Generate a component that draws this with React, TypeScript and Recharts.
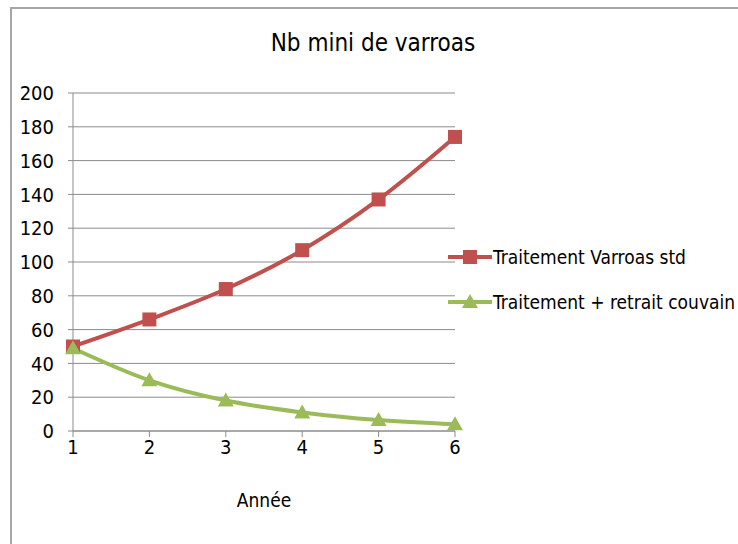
import { LineChart, Line, XAxis, YAxis, CartesianGrid } from 'recharts';

const years = [1, 2, 3, 4, 5, 6];
const standardTreatment = [50, 66, 84, 107, 137, 174];
const broodRemoval = [49, 30, 18, 11, 6.5, 4];
const yTicks = [0, 20, 40, 60, 80, 100, 120, 140, 160, 180, 200];

const RED = '#c0504d';
const GREEN = '#9bbb59';
const FONT = '"DejaVu Sans Condensed", "Liberation Sans Narrow", sans-serif';

const data = years.map((year, i) => ({
  year,
  std: standardTreatment[i],
  couvain: broodRemoval[i],
}));

const series = [
  { key: 'std', name: 'Traitement Varroas std', color: RED, shape: 'square' },
  { key: 'couvain', name: 'Traitement + retrait couvain', color: GREEN, shape: 'triangle' },
];

function SquareDot(props: any) {
  const { cx, cy } = props;
  if (cx == null || cy == null) return null;
  return <rect x={cx - 7} y={cy - 7} width={14} height={14} fill={RED} />;
}

function TriangleDot(props: any) {
  const { cx, cy } = props;
  if (cx == null || cy == null) return null;
  return (
    <polygon
      points={`${cx},${cy - 8} ${cx + 8},${cy + 6} ${cx - 8},${cy + 6}`}
      fill={GREEN}
    />
  );
}

function LegendIcon({ color, shape }: { color: string; shape: string }) {
  return (
    <svg width={44} height={18} style={{ display: 'block' }}>
      <line x1={0} y1={9} x2={44} y2={9} stroke={color} strokeWidth={4} />
      {shape === 'square' ? (
        <rect x={15} y={2} width={14} height={14} fill={color} />
      ) : (
        <polygon points="22,1 30,15 14,15" fill={color} />
      )}
    </svg>
  );
}

export default function App() {
  return (
    <div style={{ position: 'absolute', left: 0, top: 0, width: 738, height: 544, overflow: 'hidden', background: '#fff' }}>
      <div
        style={{
          position: 'absolute',
          left: 10,
          top: 7,
          width: 728,
          height: 537,
          borderTop: '2px solid #a6a6a6',
          borderLeft: '2px solid #a6a6a6',
          boxSizing: 'border-box',
        }}
      />
      <div
        style={{
          position: 'absolute',
          left: 0,
          width: 746,
          top: 29,
          textAlign: 'center',
          fontFamily: FONT,
          fontSize: 24,
          color: '#000',
        }}
      >
        Nb mini de varroas
      </div>
      <div style={{ position: 'absolute', left: 0, top: 0 }}>
        <LineChart
          width={738}
          height={544}
          data={data}
          margin={{ top: 93, right: 283, left: 23, bottom: 83 }}
        >
          <CartesianGrid vertical={false} stroke="#8c8c8c" strokeWidth={1} />
          <XAxis
            dataKey="year"
            height={30}
            stroke="#8c8c8c"
            tickSize={6}
            tickMargin={3}
            tick={{ fill: '#000', fontSize: 20, fontFamily: FONT }}
            label={{ value: 'Année', position: 'bottom', offset: 33, fill: '#000', fontSize: 19, fontFamily: FONT }}
          />
          <YAxis
            width={50}
            domain={[0, 200]}
            ticks={yTicks}
            stroke="#8c8c8c"
            tickSize={5}
            tickMargin={14}
            tick={{ fill: '#000', fontSize: 20, fontFamily: FONT }}
          />
          <Line
            type="monotone"
            dataKey="std"
            stroke={RED}
            strokeWidth={4}
            dot={<SquareDot />}
            isAnimationActive={false}
          />
          <Line
            type="monotone"
            dataKey="couvain"
            stroke={GREEN}
            strokeWidth={4}
            dot={<TriangleDot />}
            isAnimationActive={false}
          />
        </LineChart>
      </div>
      {series.map((s, i) => (
        <div
          key={s.key}
          style={{
            position: 'absolute',
            left: 448,
            top: 246 + i * 45,
            display: 'flex',
            alignItems: 'center',
            gap: 1,
            fontFamily: FONT,
            fontSize: 19,
            color: '#000',
            whiteSpace: 'nowrap',
          }}
        >
          <LegendIcon color={s.color} shape={s.shape} />
          <span>{s.name}</span>
        </div>
      ))}
    </div>
  );
}
